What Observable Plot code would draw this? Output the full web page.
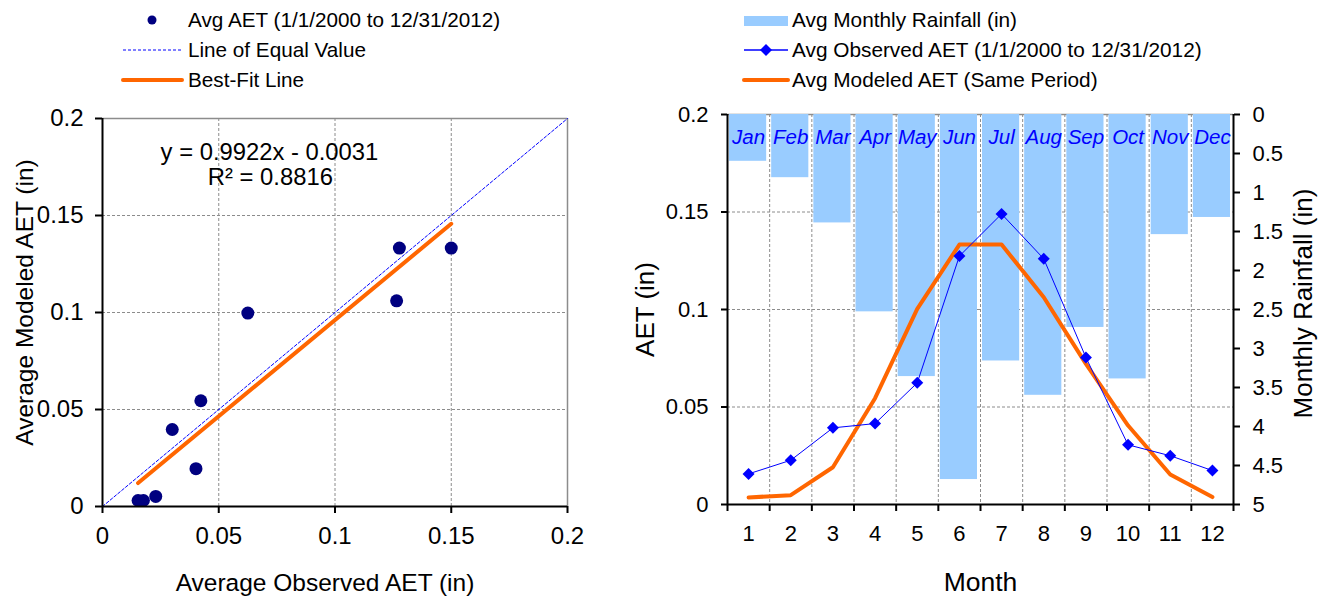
<!DOCTYPE html>
<html>
<head>
<meta charset="utf-8">
<script src="https://cdn.jsdelivr.net/npm/d3@7"></script>
<script src="https://cdn.jsdelivr.net/npm/@observablehq/plot@0.6"></script>
<style>
  html, body { margin: 0; padding: 0; background: #fff; }
  #wrap { position: relative; width: 1319px; height: 598px; overflow: hidden; font-family: Arial, "Liberation Sans", sans-serif; }
  #wrap > svg { position: absolute; top: 0; }
</style>
</head>
<body>
<div id="wrap"></div>
<script>
// ---------- data ----------
const months = [1, 2, 3, 4, 5, 6, 7, 8, 9, 10, 11, 12];
const monthNames = ["Jan", "Feb", "Mar", "Apr", "May", "Jun", "Jul", "Aug", "Sep", "Oct", "Nov", "Dec"];
const rainfall = [0.60, 0.81, 1.39, 2.53, 3.36, 4.68, 3.16, 3.60, 2.73, 3.39, 1.54, 1.32];
const observedAET = [0.0157, 0.0227, 0.0393, 0.0415, 0.0624, 0.1274, 0.1490, 0.1260, 0.0754, 0.0306, 0.0250, 0.0174];
const modeledAET = [0.0036, 0.0048, 0.0191, 0.0545, 0.1003, 0.1333, 0.1333, 0.1063, 0.0721, 0.0405, 0.0154, 0.0038];

const scatterObserved = [0.0153, 0.0176, 0.0229, 0.0300, 0.0402, 0.0423, 0.0625, 0.1265, 0.1277, 0.1500];
const scatterModeled = [0.0031, 0.0031, 0.0052, 0.0397, 0.0195, 0.0545, 0.0997, 0.1060, 0.1332, 0.1332];
const fitSlope = 0.9922, fitIntercept = -0.0031;
const fitText = ["y = 0.9922x - 0.0031", "R\u00b2 = 0.8816"];

const aetTicks = [0, 0.05, 0.1, 0.15, 0.2];
const rainTicks = [0, 0.5, 1, 1.5, 2, 2.5, 3, 3.5, 4, 4.5, 5];
const aetMax = 0.2, rainMax = 5;

const leftLegend = ["Avg AET (1/1/2000 to 12/31/2012)", "Line of Equal Value", "Best-Fit Line"];
const rightLegend = ["Avg Monthly Rainfall (in)", "Avg Observed AET (1/1/2000 to 12/31/2012)", "Avg Modeled AET (Same Period)"];

// ---------- tables ----------
const scatter = scatterObserved.map((x, i) => ({x, y: scatterModeled[i]}));
const fitExt = d3.extent(scatterObserved);
const fitLine = fitExt.map(x => ({x, y: fitSlope * x + fitIntercept}));
const monthly = months.map((m, i) => ({month: m, name: monthNames[i], rain: rainfall[i], obs: observedAET[i], mod: modeledAET[i]}));
const rainToY = r => aetMax * (1 - r / rainMax);
const fmt = v => String(+(+v).toFixed(3));

const FONT = 'Arial, "Liberation Sans", sans-serif';
const GRID = "#8c8c8c";
const ORANGE = "#ff6600";
const BLUE = "#0000ff";
const NAVY = "#000080";
const BAR = "#99ccff";

// ---------- left: scatter ----------
const left = Plot.plot({
  width: 640, height: 598,
  marginLeft: 102, marginRight: 73, marginTop: 118, marginBottom: 92,
  style: {fontFamily: FONT, color: "#000", background: "transparent", overflow: "visible"},
  x: {domain: [0, 0.2]},
  y: {domain: [0, 0.2]},
  marks: [
    Plot.ruleX([0.05, 0.1, 0.15], {stroke: GRID, strokeDasharray: "3,2"}),
    Plot.ruleY([0.05, 0.1, 0.15], {stroke: GRID, strokeDasharray: "3,2"}),
    Plot.ruleX([0.2], {stroke: GRID, strokeWidth: 1.5}),
    Plot.ruleY([0.2], {stroke: GRID, strokeWidth: 1.5}),
    Plot.line([{x: 0, y: 0}, {x: 0.2, y: 0.2}], {x: "x", y: "y", stroke: BLUE, strokeWidth: 1, strokeDasharray: "3,2"}),
    Plot.line(fitLine, {x: "x", y: "y", stroke: ORANGE, strokeWidth: 4}),
    Plot.dot(scatter, {x: "x", y: "y", r: 6.5, fill: NAVY, stroke: "none"}),
    Plot.text([fitText[0]], {x: () => 0.0718, y: () => 0.1825, text: d => d, fontSize: 23.8}),
    Plot.text([fitText[1]], {x: () => 0.0722, y: () => 0.1696, text: d => d, fontSize: 23.8}),
    Plot.ruleX([0], {stroke: "#000", strokeWidth: 2}),
    Plot.ruleY([0], {stroke: "#000", strokeWidth: 2}),
    Plot.axisY({ticks: aetTicks, tickFormat: fmt, tickSize: 7, tickPadding: 12, fontSize: 24, label: null, strokeWidth: 2}),
    Plot.axisX({ticks: aetTicks, tickFormat: fmt, tickSize: 7, tickPadding: 13, fontSize: 24, label: null, strokeWidth: 2}),
    Plot.text(["Average Observed AET (in)"], {frameAnchor: "bottom", lineAnchor: "middle", textAnchor: "middle", dx: -10, dy: 77, text: d => d, fontSize: 24.5}),
    Plot.text(["Average Modeled AET (in)"], {frameAnchor: "left", lineAnchor: "middle", textAnchor: "middle", rotate: -90, dx: -77, dy: -10, text: d => d, fontSize: 24.5})
  ]
});
left.style.left = "0px";

// ---------- right: monthly ----------
const right = Plot.plot({
  width: 679, height: 598,
  marginLeft: 87, marginRight: 86, marginTop: 114, marginBottom: 94,
  style: {fontFamily: FONT, color: "#000", background: "transparent", overflow: "visible"},
  x: {domain: [0.5, 12.5]},
  y: {domain: [0, aetMax]},
  marks: [
    Plot.ruleY([0.05, 0.1, 0.15], {stroke: GRID, strokeDasharray: "3,2"}),
    Plot.ruleX(months.slice(0, -1).map(m => m + 0.5), {stroke: GRID, strokeDasharray: "3,2"}),
    Plot.ruleY([aetMax], {stroke: GRID, strokeWidth: 1.5}),
    Plot.rectY(monthly, {x1: d => d.month - 0.5, x2: d => d.month + 0.5, y1: () => aetMax, y2: d => rainToY(d.rain), insetLeft: 2, insetRight: 3, fill: BAR}),
    Plot.text(monthly, {x: "month", y: () => aetMax, dy: 23, text: "name", fill: BLUE, fontStyle: "italic", fontSize: 20.5}),
    Plot.line(monthly, {x: "month", y: "mod", stroke: ORANGE, strokeWidth: 4}),
    Plot.line(monthly, {x: "month", y: "obs", stroke: BLUE, strokeWidth: 1}),
    Plot.dot(monthly, {x: "month", y: "obs", symbol: "diamond2", r: 5.4, fill: BLUE, stroke: "none"}),
    Plot.ruleX([0.5, 12.5], {stroke: "#000", strokeWidth: 2}),
    Plot.ruleY([0], {stroke: "#000", strokeWidth: 2}),
    Plot.axisY({anchor: "left", ticks: aetTicks, tickFormat: fmt, tickSize: 6, tickPadding: 13, fontSize: 22, label: null, strokeWidth: 2}),
    Plot.axisY({anchor: "right", ticks: rainTicks.map(rainToY), tickFormat: v => fmt(rainMax * (1 - v / aetMax)), tickSize: 6, tickPadding: 13, fontSize: 22, label: null, strokeWidth: 2}),
    Plot.axisX({ticks: [0.5, ...months.map(m => m + 0.5)], tickFormat: () => "", tickSize: 7, label: null, strokeWidth: 2}),
    Plot.axisX({ticks: months, tickFormat: d => String(d), tickSize: 0, tickPadding: 21, fontSize: 22, label: null}),
    Plot.text(["Month"], {frameAnchor: "bottom", lineAnchor: "middle", textAnchor: "middle", dy: 78, text: d => d, fontSize: 26.5}),
    Plot.text(["AET (in)"], {frameAnchor: "left", lineAnchor: "middle", textAnchor: "middle", rotate: -90, dx: -82, text: d => d, fontSize: 26}),
    Plot.text(["Monthly Rainfall (in)"], {frameAnchor: "right", lineAnchor: "middle", textAnchor: "middle", rotate: -90, dx: 70, dy: -6, text: d => d, fontSize: 26})
  ]
});
right.style.left = "640px";

const wrap = document.getElementById("wrap");
wrap.appendChild(left);
wrap.appendChild(right);

// ---------- legends ----------
const lg = d3.select(wrap).append("svg")
  .attr("width", 1319).attr("height", 100)
  .style("position", "absolute").style("left", "0px").style("top", "0px")
  .style("font-family", FONT);

const lrow = [20, 50, 80];
lg.append("circle").attr("cx", 152).attr("cy", lrow[0]).attr("r", 4.5).attr("fill", NAVY);
lg.append("line").attr("x1", 123).attr("x2", 182).attr("y1", lrow[1]).attr("y2", lrow[1]).attr("stroke", BLUE).attr("stroke-dasharray", "3,2");
lg.append("line").attr("x1", 123).attr("x2", 182).attr("y1", lrow[2]).attr("y2", lrow[2]).attr("stroke", ORANGE).attr("stroke-width", 4).attr("stroke-linecap", "round");
leftLegend.forEach((t, i) => lg.append("text").attr("x", 188).attr("y", lrow[i]).attr("dy", "0.35em").attr("font-size", 20.7).text(t));

lg.append("rect").attr("x", 744).attr("y", 16).attr("width", 44).attr("height", 10).attr("fill", BAR);
lg.append("line").attr("x1", 744).attr("x2", 788).attr("y1", lrow[1]).attr("y2", lrow[1]).attr("stroke", BLUE).attr("stroke-width", 1.5);
lg.append("path").attr("d", d3.symbol(d3.symbolDiamond2, Math.PI * 5.4 * 5.4)()).attr("transform", `translate(766,${lrow[1]})`).attr("fill", BLUE);
lg.append("line").attr("x1", 744).attr("x2", 788).attr("y1", lrow[2]).attr("y2", lrow[2]).attr("stroke", ORANGE).attr("stroke-width", 4).attr("stroke-linecap", "round");
rightLegend.forEach((t, i) => lg.append("text").attr("x", 792).attr("y", lrow[i]).attr("dy", "0.35em").attr("font-size", 20.8).text(t));
</script>
</body>
</html>
